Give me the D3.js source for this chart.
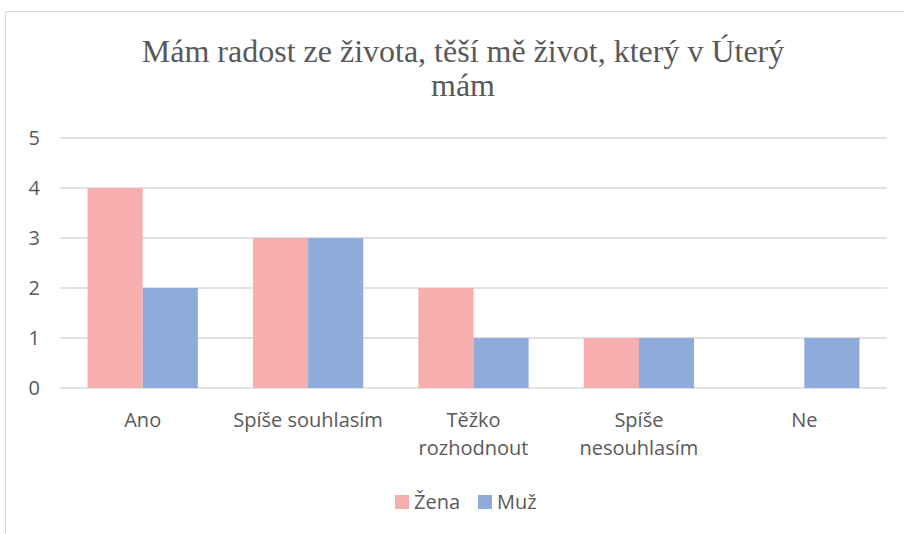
<!doctype html>
<html lang="cs">
  <head>
    <meta charset="utf-8">
    <title>Mám radost ze života</title>
    <script src="https://d3js.org/d3.v7.min.js"></script>
    <style>
      body { margin: 0; background: #fff; }
      text { font-family: "Open Sans", sans-serif; fill: #595959; }
      .title { font-family: "Liberation Serif", "Times New Roman", serif; }
    </style>
  </head>
  <body>
    <svg width="904" height="534"></svg>
    <script>
      var categories = ['Ano', 'Spíše souhlasím', 'Těžko rozhodnout', 'Spíše nesouhlasím', 'Ne'];
      var zena = [4, 3, 2, 1, 0];
      var muz = [2, 3, 1, 1, 1];
      var seriesNames = ['Žena', 'Muž'];
      var colors = ['#F6AEAF', '#8FABDC'];
      var yTicks = [0, 1, 2, 3, 4, 5];

      var svg = d3.select('svg');

      // chart frame (right and bottom edges fall outside the picture)
      svg.append('rect')
        .attr('x', 5.5).attr('y', 11.5)
        .attr('width', 915).attr('height', 540)
        .attr('fill', 'none')
        .attr('stroke', '#d9d9d9');

      var plotLeft = 60, plotRight = 887, plotTop = 138, plotBottom = 388;

      var x = d3.scaleBand().domain(categories).range([plotLeft, plotRight]).paddingInner(1/3).paddingOuter(1/6);
      var xs = d3.scaleBand().domain(seriesNames).range([0, x.bandwidth()]);
      var y = d3.scaleLinear().domain([0, 5]).range([plotBottom, plotTop]);

      // gridlines
      svg.append('g').selectAll('line').data(yTicks).enter()
        .append('line')
        .attr('x1', plotLeft).attr('x2', plotRight)
        .attr('y1', function(d){ return y(d); })
        .attr('y2', function(d){ return y(d); })
        .attr('stroke', '#d9d9d9')
        .attr('stroke-width', 1.5);

      // y tick labels
      svg.append('g').selectAll('text').data(yTicks).enter()
        .append('text')
        .attr('x', 40)
        .attr('y', function(d){ return y(d); })
        .attr('dy', '0.35em')
        .attr('text-anchor', 'end')
        .style('font-size', '20px')
        .text(function(d){ return d; });

      // bars
      var series = [zena, muz];
      series.forEach(function(vals, si) {
        svg.append('g').selectAll('rect').data(vals).enter()
          .append('rect')
          .attr('x', function(d, i){ return x(categories[i]) + xs(seriesNames[si]); })
          .attr('y', function(d){ return y(d); })
          .attr('width', xs.bandwidth())
          .attr('height', function(d){ return y(0) - y(d); })
          .attr('fill', colors[si]);
      });

      // category labels, wrapped when too wide for the category slot
      var maxLabel = x.step() - 8;
      var labels = svg.append('g').selectAll('text').data(categories).enter()
        .append('text')
        .attr('text-anchor', 'middle')
        .attr('y', 427)
        .style('font-size', '20px');
      labels.each(function(d) {
        var t = d3.select(this);
        var cx = x(d) + x.bandwidth() / 2;
        t.append('tspan').attr('x', cx).text(d);
        if (this.getComputedTextLength() > maxLabel) {
          t.selectAll('tspan').remove();
          d.split(' ').forEach(function(w, i) {
            t.append('tspan').attr('x', cx).attr('dy', i ? 28 : 0).text(w);
          });
        }
      });

      // title
      var title = svg.append('text')
        .attr('class', 'title')
        .attr('text-anchor', 'middle')
        .style('font-size', '32px');
      title.append('tspan').attr('x', 463).attr('y', 62).text('Mám radost ze života, těší mě život, který v Úterý');
      title.append('tspan').attr('x', 463).attr('y', 96).text('mám');

      // legend
      var legend = svg.append('g');
      var lx = [395, 478];
      seriesNames.forEach(function(name, i) {
        legend.append('rect')
          .attr('x', lx[i]).attr('y', 495)
          .attr('width', 14).attr('height', 14)
          .attr('fill', colors[i]);
        legend.append('text')
          .attr('x', lx[i] + 19).attr('y', 509)
          .style('font-size', '20px')
          .text(name);
      });
    </script>
  </body>
</html>
